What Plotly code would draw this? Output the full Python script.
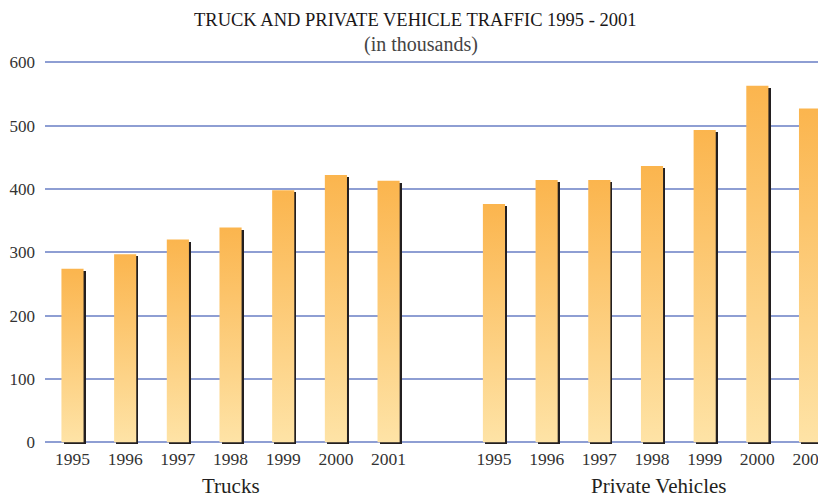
import plotly.graph_objects as go

years = ["1995", "1996", "1997", "1998", "1999", "2000", "2001"]
trucks = [274, 297, 320, 339, 398, 422, 413]
private_vehicles = [376, 414, 414, 436, 493, 563, 527]
groups = ["Trucks", "Private Vehicles"]
y_ticks = [0, 100, 200, 300, 400, 500, 600]

pos_trucks = list(range(0, 7))
pos_pv = list(range(8, 15))
positions = pos_trucks + pos_pv
values = trucks + private_vehicles
labels = years + years

BAR_W = 0.42
SH_DX = 0.04
SH_DY = 3.2
TOP = "#fbb54e"
BOTTOM = "#fee3a6"
SHADOW = "#231f20"
GRID = "#8e9ed3"
FONT = "Liberation Serif"

fig = go.Figure()

# shadows
fig.add_trace(go.Bar(
    x=[p + SH_DX for p in positions], y=values, base=-SH_DY, width=BAR_W,
    marker=dict(color=SHADOW, line=dict(width=0)), hoverinfo="skip", showlegend=False,
))

# gradient bars
for p, v in zip(positions, values):
    x0, x1 = p - BAR_W / 2, p + BAR_W / 2
    fig.add_trace(go.Scatter(
        x=[x0, x1, x1, x0, x0], y=[0, 0, v, v, 0],
        mode="lines", fill="toself",
        line=dict(width=0, color="rgba(0,0,0,0)"),
        fillgradient=dict(type="vertical", colorscale=[[0, BOTTOM], [1, TOP]]),
        hoverinfo="skip", showlegend=False,
    ))

# page body has an 8px margin, so the figure is sized to end at the window edge
fig.update_layout(
    width=818, height=489,
    margin=dict(l=37, r=0, t=53, b=51, autoexpand=False),
    paper_bgcolor="white", plot_bgcolor="white",
    font=dict(family=FONT, color="#333333", size=17),
    xaxis=dict(
        range=[-0.522, 14.303], tickvals=positions, ticktext=labels,
        showgrid=False, zeroline=False, showline=False, ticks="", automargin=False,
        ticklabeloverflow="allow",
        tickfont=dict(size=17.5, color="#333333"), fixedrange=True,
    ),
    yaxis=dict(
        range=[-6, 602], tickvals=y_ticks, showgrid=True, gridcolor=GRID, gridwidth=1.5,
        zeroline=False, showline=False, ticks="", ticklabelstandoff=9, automargin=False,
        tickfont=dict(size=17, color="#333333"), fixedrange=True,
    ),
    bargap=0,
    annotations=[
        dict(text="TRUCK AND PRIVATE VEHICLE TRAFFIC 1995 - 2001", xref="paper", yref="paper",
             x=0.475, y=1.106, xanchor="center", yanchor="middle", showarrow=False,
             font=dict(size=18.5, color="#1a1718", family=FONT)),
        dict(text="(in thousands)", xref="paper", yref="paper",
             x=0.481, y=1.044, xanchor="center", yanchor="middle", showarrow=False,
             font=dict(size=20, color="#444444", family=FONT)),
        dict(text=groups[0], xref="x", yref="paper", x=3, y=-0.104,
             xanchor="center", yanchor="middle", showarrow=False,
             font=dict(size=21, color="#231f20", family=FONT)),
        dict(text=groups[1], xref="x", yref="paper", x=11.13, y=-0.104,
             xanchor="center", yanchor="middle", showarrow=False,
             font=dict(size=21, color="#231f20", family=FONT)),
    ],
)

fig.write_html("out.html")
